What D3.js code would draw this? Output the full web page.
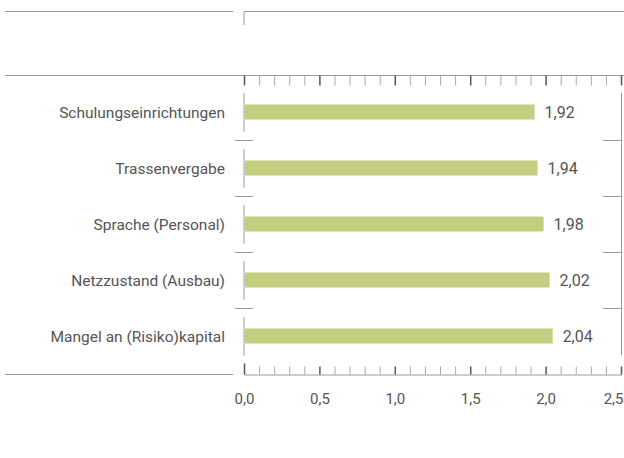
<!DOCTYPE html>
<html>
<head>
<meta charset="utf-8">
<script src="https://cdn.jsdelivr.net/npm/d3@7"></script>
<style>
  body { margin: 0; background: #fff; }
  svg text { font-family: Roboto, "Noto Sans", sans-serif; fill: #555; }
</style>
</head>
<body>
<div id="chart"></div>
<script>
// data
const categories = ["Schulungseinrichtungen", "Trassenvergabe", "Sprache (Personal)", "Netzzustand (Ausbau)", "Mangel an (Risiko)kapital"];
const values = [1.92, 1.94, 1.98, 2.02, 2.04];
const majorTicks = [0, 0.5, 1.0, 1.5, 2.0, 2.5];
const minorTicks = d3.range(0, 26).map(i => i / 10);

const width = 624, height = 458;
const de = d3.formatLocale({decimal: ",", thousands: ".", grouping: [3], currency: ["", " €"]});
const fmt1 = de.format(".1f"), fmt2 = de.format(".2f");

const svg = d3.select("#chart").append("svg")
    .attr("width", width)
    .attr("height", height);

const x = d3.scaleLinear().domain([0, 2.5]).range([244, 621]);
const y = d3.scaleBand().domain(categories).range([84, 364]);

const lineCol = "#9a9a9a", majorCol = "#555";
const isMajor = d => majorTicks.some(m => Math.abs(m - d) < 1e-9);

// frame lines at the top
svg.append("line").attr("x1", 5).attr("x2", 233).attr("y1", 11.5).attr("y2", 11.5).attr("stroke", lineCol);
svg.append("path").attr("d", `M${x(0)},25V11.5H${width}`).attr("fill", "none").attr("stroke", lineCol);
svg.append("line").attr("x1", 5).attr("x2", width).attr("y1", 75.5).attr("y2", 75.5).attr("stroke", lineCol);
svg.append("line").attr("x1", 5).attr("x2", 233).attr("y1", 374.5).attr("y2", 374.5).attr("stroke", lineCol);

// top ticks
const topAxis = svg.append("g")
    .attr("transform", "translate(0,75.5)")
    .call(d3.axisBottom(x).tickValues(minorTicks).tickSize(10).tickFormat(""));
topAxis.select(".domain").remove();

// bottom axis
const bottomAxis = svg.append("g")
    .attr("transform", "translate(0,374.5)")
    .call(d3.axisBottom(x).tickValues(minorTicks).tickSizeOuter(0).tickSize(-8).tickPadding(19)
        .tickFormat(d => isMajor(d) ? fmt1(d) : ""));
bottomAxis.select(".domain").attr("stroke", lineCol);
bottomAxis.selectAll("text").attr("font-size", 15).attr("fill", "#777");
bottomAxis.selectAll(".tick text").filter(d => Math.abs(d - 2.5) < 1e-9).attr("text-anchor", "end").attr("dx", 2);

[topAxis, bottomAxis].forEach(g => {
  g.selectAll(".tick line")
    .attr("stroke", d => isMajor(d) ? majorCol : "#aaa")
    .attr("stroke-width", d => isMajor(d) ? 1.5 : 1);
});
bottomAxis.selectAll(".tick line").filter(d => Math.abs(d) < 1e-9).attr("y2", -11);

// band separators on the left axis
const bw = y.bandwidth();
svg.append("g").selectAll("line")
  .data(categories)
  .join("line")
    .attr("x1", x(0)).attr("x2", x(0))
    .attr("y1", d => y(d) + 9).attr("y2", d => y(d) + bw - 8)
    .attr("stroke", lineCol);
svg.append("g").selectAll("line")
  .data(categories.slice(1))
  .join("line")
    .attr("x1", x(0) - 9).attr("x2", x(0) + 9)
    .attr("y1", d => y(d) + 0.5).attr("y2", d => y(d) + 0.5)
    .attr("stroke", lineCol);

// right side frame
svg.append("line")
    .attr("x1", x(2.5) + 0.5).attr("x2", x(2.5) + 0.5)
    .attr("y1", y(categories[0]) + 9).attr("y2", y(categories[categories.length - 1]) + bw - 9)
    .attr("stroke", lineCol);
svg.append("g").selectAll("line")
  .data(categories.slice(1))
  .join("line")
    .attr("x1", x(2.5) - 18).attr("x2", x(2.5) + 0.5)
    .attr("y1", d => y(d) + 0.5).attr("y2", d => y(d) + 0.5)
    .attr("stroke", lineCol);

// bars
svg.append("g").selectAll("rect")
  .data(values)
  .join("rect")
    .attr("x", x(0) + 1)
    .attr("y", (d, i) => y(categories[i]) + bw / 2 - 7.5)
    .attr("width", d => x(d) - x(0))
    .attr("height", 15)
    .attr("fill", "#c4cd80");

// value labels
svg.append("g").selectAll("text")
  .data(values)
  .join("text")
    .attr("x", d => x(d) + 11)
    .attr("y", (d, i) => y(categories[i]) + bw / 2)
    .attr("dy", "0.36em")
    .attr("font-size", 16)
    .attr("fill", "#444")
    .text(d => fmt2(d));

// category labels
svg.append("g").selectAll("text")
  .data(categories)
  .join("text")
    .attr("x", 225)
    .attr("y", d => y(d) + bw / 2)
    .attr("dy", "0.36em")
    .attr("text-anchor", "end")
    .attr("font-size", 15.5)
    .text(d => d);
</script>
</body>
</html>
